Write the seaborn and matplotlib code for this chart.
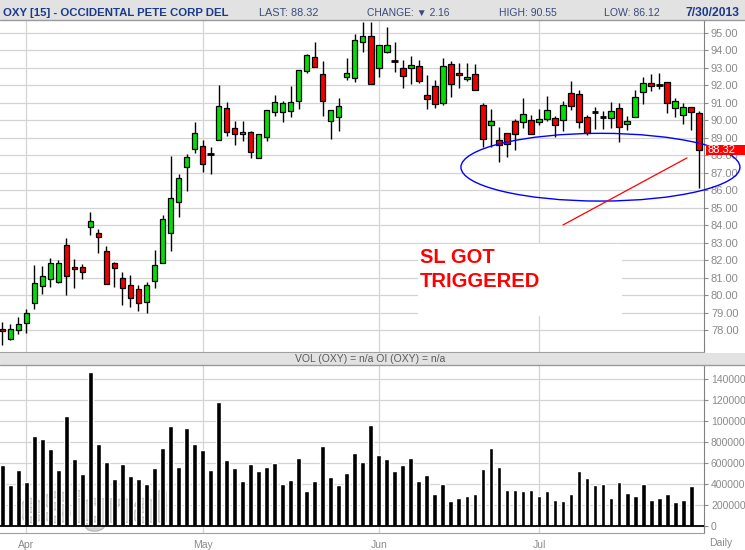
import matplotlib
matplotlib.use('Agg')
import matplotlib.pyplot as plt
import matplotlib.patches as mpatches
import matplotlib.transforms as mtransforms
import matplotlib.patheffects as pe
import numpy as np
import pandas as pd
import seaborn as sns

sns.set_style('white')
plt.rcParams['font.family'] = ['Liberation Sans', 'DejaVu Sans']
NARROW = ['Liberation Sans Narrow', 'Liberation Sans', 'DejaVu Sans']

# ---- daily OHLC, OXY, 26 Mar - 30 Jul 2013 ----
opens = [78.10, 77.53, 78.05, 78.41, 79.55, 80.52, 80.92, 80.75, 82.87, 81.61,
         81.61, 83.93, 83.57, 82.52, 81.84, 80.98, 80.58, 80.37, 79.61, 80.81,
         81.84, 83.55, 85.36, 87.32, 88.35, 88.52, 88.10, 88.87, 90.70, 89.55,
         89.21, 89.32, 87.84, 89.04, 90.47, 90.47, 90.52, 91.09, 92.81, 93.63,
         92.64, 89.95, 90.18, 92.47, 92.41, 94.47, 94.81, 92.98, 93.93, 93.42,
         92.98, 92.98, 93.10, 91.44, 91.95, 90.98, 93.21, 92.70, 92.35, 92.64,
         90.87, 89.72, 88.87, 89.27, 89.95, 89.90, 90.01, 89.90, 90.07, 90.12,
         90.01, 91.55, 91.50, 90.18, 90.47, 90.22, 90.12, 90.70, 89.78, 90.18,
         91.61, 92.12, 92.03, 92.18, 90.70, 90.29, 90.75, 90.41]
highs = [78.49, 78.37, 78.77, 79.21, 81.72, 81.69, 82.14, 82.03, 83.29, 82.07,
         81.80, 84.77, 83.80, 82.83, 81.93, 81.34, 81.17, 80.58, 80.77, 82.60,
         84.60, 87.99, 86.94, 88.09, 89.91, 88.89, 88.49, 92.03, 91.06, 89.97,
         89.97, 89.38, 89.21, 90.58, 91.44, 91.10, 91.97, 92.87, 93.80, 94.49,
         93.38, 90.58, 91.27, 93.55, 94.92, 95.61, 95.61, 94.30, 95.32, 94.47,
         93.44, 93.67, 93.44, 92.58, 92.30, 93.55, 93.38, 93.27, 93.27, 93.21,
         90.98, 90.64, 89.61, 89.27, 90.07, 91.29, 90.30, 90.64, 91.40, 90.24,
         91.09, 92.26, 91.72, 90.30, 90.75, 90.52, 91.04, 90.98, 90.24, 91.72,
         92.47, 92.66, 92.71, 92.18, 91.27, 90.98, 90.75, 90.55]
lows = [77.19, 77.46, 77.82, 77.87, 79.25, 80.10, 80.50, 80.73, 80.01, 80.45,
        80.96, 83.48, 82.45, 80.64, 80.50, 79.48, 79.36, 79.13, 78.98, 80.45,
        81.84, 82.56, 84.50, 85.99, 88.16, 87.08, 86.92, 88.87, 89.13, 88.62,
        88.85, 87.88, 87.84, 88.85, 90.28, 89.93, 90.22, 90.68, 92.70, 93.04,
        90.28, 88.92, 89.42, 92.30, 92.18, 93.93, 92.07, 92.47, 93.84, 92.79,
        91.88, 92.07, 92.12, 90.64, 90.70, 90.87, 91.32, 91.84, 92.24, 91.72,
        88.47, 88.47, 87.61, 87.90, 88.30, 89.55, 89.21, 89.72, 89.95, 89.04,
        89.38, 90.58, 89.55, 89.15, 89.50, 89.50, 89.55, 88.75, 89.44, 90.18,
        90.92, 91.66, 91.80, 90.41, 90.18, 89.78, 89.44, 86.12]
closes = [77.95, 78.10, 78.35, 78.98, 80.70, 81.10, 81.84, 81.84, 81.10, 81.50,
          81.32, 84.24, 83.32, 80.64, 81.55, 80.41, 79.84, 79.55, 80.58, 81.72,
          84.35, 85.55, 86.69, 87.90, 89.27, 87.50, 88.10, 90.81, 89.32, 89.21,
          89.32, 88.18, 89.21, 90.58, 91.04, 90.98, 91.04, 92.87, 93.74, 93.04,
          91.09, 90.58, 90.81, 92.70, 94.58, 94.81, 92.07, 94.30, 94.30, 93.42,
          92.52, 93.15, 92.24, 91.21, 90.92, 93.10, 92.07, 92.58, 92.47, 91.72,
          88.92, 89.95, 88.60, 88.64, 89.21, 90.35, 89.21, 90.07, 90.58, 89.72,
          90.87, 90.81, 89.90, 89.27, 90.47, 90.22, 90.52, 89.61, 89.95, 91.32,
          92.12, 91.97, 92.03, 90.98, 91.09, 90.75, 90.47, 88.32]
volumes = [584000, 393000, 536000, 422000, 860000, 831000, 736000, 536000, 1050000, 641000,
           498000, 1469000, 784000, 612000, 450000, 593000, 479000, 450000, 403000, 555000,
           746000, 955000, 565000, 936000, 784000, 727000, 536000, 1184000, 631000, 555000,
           431000, 593000, 526000, 565000, 603000, 403000, 441000, 650000, 336000, 431000,
           765000, 469000, 393000, 507000, 698000, 612000, 965000, 679000, 641000, 526000,
           584000, 650000, 431000, 488000, 307000, 403000, 241000, 269000, 288000, 307000,
           546000, 746000, 565000, 346000, 346000, 336000, 346000, 288000, 336000, 250000,
           241000, 307000, 526000, 460000, 393000, 403000, 269000, 422000, 317000, 288000,
           403000, 250000, 269000, 307000, 231000, 250000, 384000, np.nan]

month_ticks = [3, 25, 47, 67]
month_labels = ['Apr', 'May', 'Jun', 'Jul']
price_ticks = list(range(78, 96))
vol_ticks = [0, 200000, 400000, 600000, 800000, 1000000, 1200000, 1400000]

symbol_title = 'OXY [15] - OCCIDENTAL PETE CORP DEL'
last_price = 88.32
change = 2.16
day_high = 90.55
day_low = 86.12
quote_date = '7/30/2013'

GREEN = '#00e000'
RED = '#f00000'
GRID = '#d4d4d4'
AXIS = '#8a8a8a'

W, H = 745, 550


def fx(px):
    return px / W


def fy(py):
    return 1 - py / H


fig = plt.figure(figsize=(W / 100, H / 100), dpi=100)
fig.patch.set_facecolor('white')

# header strip
fig.patches.append(mpatches.Rectangle((0, fy(19.5)), 1, 1 - fy(19.5), transform=fig.transFigure,
                                      facecolor='#e2e2e2', edgecolor='none', zorder=0))
fig.add_artist(plt.Line2D([0, 1], [fy(19.5), fy(19.5)], color='#9a9a9a', lw=1))
# volume caption strip
fig.patches.append(mpatches.Rectangle((0, fy(364.5)), 1, fy(352.5) - fy(364.5), transform=fig.transFigure,
                                      facecolor='#e2e2e2', edgecolor='none', zorder=0))
fig.add_artist(plt.Line2D([0, 1], [fy(364.5), fy(364.5)], color='#9a9a9a', lw=1))

ax = fig.add_axes([0, fy(351.5), fx(704), fy(20) - fy(351.5)])
axv = fig.add_axes([0, fy(532.7), fx(704), fy(364.5) - fy(532.7)])

x = np.arange(len(opens))
o = np.array(opens)
c = np.array(closes)
up = c > o
down = c < o
doji = c == o

# ---- candles ----
ax.vlines(x, lows, highs, color='black', lw=1.0, zorder=2)
ax.bar(x[up], (c - o)[up], bottom=o[up], width=0.68, color=GREEN,
       edgecolor='black', linewidth=0.9, zorder=3)
ax.bar(x[down], (o - c)[down], bottom=c[down], width=0.68, color=RED,
       edgecolor='black', linewidth=0.9, zorder=3)
ax.hlines(o[doji], x[doji] - 0.42, x[doji] + 0.42, color='black', lw=2, zorder=3)

ax.set_xlim(-0.29, 87.6)
ax.set_ylim(76.8, 95.74)
ax.set_xticks(month_ticks)
ax.set_yticks(price_ticks)
ax.set_yticklabels([f'{p:.2f}' for p in price_ticks])
ax.yaxis.tick_right()
ax.tick_params(axis='x', length=0, labelbottom=False)
ax.tick_params(axis='y', length=3, width=0.8, color=AXIS, labelcolor=AXIS, labelsize=8, pad=2)
ax.grid(True, color=GRID, lw=0.9)
ax.set_axisbelow(True)
for s in ['left', 'top']:
    ax.spines[s].set_visible(False)
ax.spines['right'].set_color('#808080')
ax.spines['bottom'].set_color('#a0a0a0')

# note box, circle and trend line drawn on the chart
ax.add_patch(mpatches.Rectangle((51.9, 78.83), 25.46, 4.12, facecolor='white',
                                edgecolor='none', zorder=1))
ax.text(52.14, 81.84, 'SL GOT', color='#ff0000', fontsize=14.5, fontweight='bold',
        va='baseline', ha='left', zorder=6)
ax.text(52.14, 80.47, 'TRIGGERED', color='#ff0000', fontsize=14.5, fontweight='bold',
        va='baseline', ha='left', zorder=6)
ax.add_patch(mpatches.Ellipse((74.67, 87.33), 34.83, 3.87, fill=False, edgecolor='#0000ff',
                              lw=1.0, clip_on=False, zorder=7))
ax.plot([70.0, 85.47], [84.03, 87.86], color='#ff0000', lw=0.9, zorder=7)

# last price flag
blend = mtransforms.blended_transform_factory(fig.transFigure, ax.transData)
ax.add_patch(mpatches.Rectangle((fx(705.5), last_price - 0.27), 0.06, 0.54, transform=blend,
                                facecolor='#ff0000', edgecolor='none', clip_on=False, zorder=10))
ax.text(fx(707), last_price, f'{last_price:.2f}', transform=blend, color='white', fontsize=8,
        va='center', ha='left', zorder=11, clip_on=False)

# ---- volume ----
vol_df = pd.DataFrame({'bar': x, 'volume': volumes}).dropna()
wm = axv.text(2.2, 45000, 'eSignal', fontsize=30, fontweight='bold', color='#d4d4d4',
              family=NARROW, va='baseline', ha='left', zorder=1)
wm.set_path_effects([pe.withStroke(linewidth=2, foreground='#b4b4b4'), pe.Normal()])
sns.barplot(data=vol_df, x='bar', y='volume', native_scale=True, color='black',
            saturation=1, width=0.6, errorbar=None, ax=axv, zorder=3)
axv.axhline(0, color='black', lw=1.3, zorder=4)
axv.set_xlabel('')
axv.set_ylabel('')
axv.set_xlim(-0.29, 87.6)
axv.set_ylim(-60952, 1540952)
axv.set_xticks(month_ticks)
axv.set_xticklabels(month_labels)
axv.set_yticks(vol_ticks)
axv.set_yticklabels([str(v) for v in vol_ticks])
axv.yaxis.tick_right()
axv.tick_params(axis='x', length=0, labelcolor=AXIS, labelsize=7.5, pad=5)
axv.tick_params(axis='y', length=3, width=0.8, color=AXIS, labelcolor=AXIS, labelsize=7.5, pad=2)
axv.grid(True, color=GRID, lw=0.9)
axv.set_axisbelow(True)
axv.spines['left'].set_visible(False)
axv.spines['top'].set_visible(False)
axv.spines['right'].set_color('#808080')
axv.spines['bottom'].set_color('#a0a0a0')

# ---- header texts ----
renderer = fig.canvas.get_renderer()


def fit_width(t, target_px):
    w = t.get_window_extent(renderer=renderer).width
    t.set_fontsize(t.get_fontsize() * target_px / w)


NAVY = '#1b3a8c'
SOFT = '#3a4a7c'
hy = fy(15.8)
t = fig.text(fx(3), hy, symbol_title, color=NAVY, fontweight='bold', family=NARROW,
             fontsize=10, va='baseline')
fit_width(t, 225)
t = fig.text(fx(259), hy, f'LAST: {last_price:.2f}', color=SOFT, family=NARROW,
             fontsize=8, va='baseline')
fit_width(t, 59)
t = fig.text(fx(367), hy, f'CHANGE: \u25bc {change:.2f}', color=SOFT, family=NARROW,
             fontsize=8, va='baseline')
fit_width(t, 83)
t = fig.text(fx(499), hy, f'HIGH: {day_high:.2f}', color=SOFT, family=NARROW,
             fontsize=8, va='baseline')
fit_width(t, 57)
t = fig.text(fx(604), hy, f'LOW: {day_low:.2f}', color=SOFT, family=NARROW,
             fontsize=8, va='baseline')
fit_width(t, 56)
t = fig.text(fx(686), hy, quote_date, color=NAVY, fontweight='bold', family=NARROW,
             fontsize=9, va='baseline')
fit_width(t, 54)

t = fig.text(fx(370), fy(358.5), 'VOL (OXY) = n/a OI (OXY) = n/a', color='#5a5a5a',
             fontsize=7.5, ha='center', va='center')
fit_width(t, 150)

fig.text(fx(721), fy(543), 'Daily', color=AXIS, fontsize=7.5, ha='center', va='center')

fig.savefig('out.png', dpi=100)
